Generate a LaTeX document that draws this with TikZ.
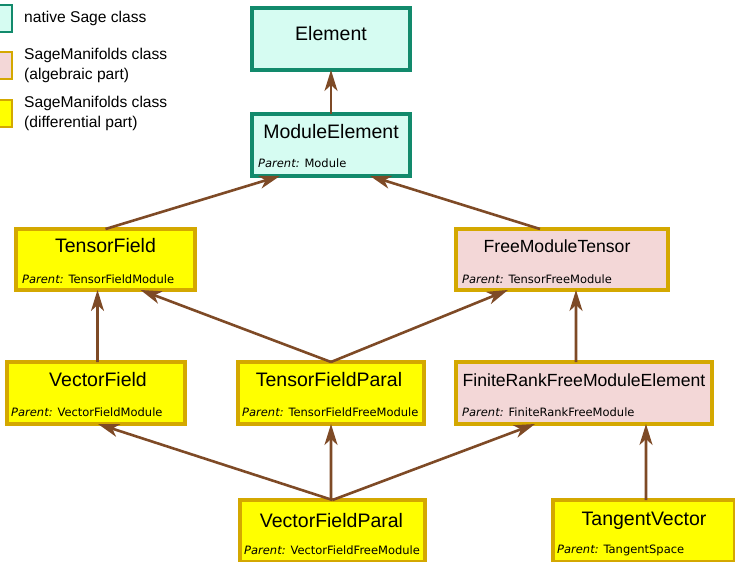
\documentclass[tikz,border=0pt]{standalone}
\usepackage{fontspec}
\setmainfont{Liberation Sans}
\newfontfamily\parentfont{DejaVu Sans}
\usetikzlibrary{arrows.meta}

\definecolor{sagefill}{HTML}{D6FCF2}
\definecolor{sageline}{HTML}{128A6C}
\definecolor{algfill}{HTML}{F3D7D7}
\definecolor{smline}{HTML}{D4A800}
\definecolor{difffill}{HTML}{FFFF00}
\definecolor{inhcol}{HTML}{7E4A26}

\newcommand{\parentof}[1]{{\parentfont\fontsize{11.5bp}{13bp}\selectfont\textit{Parent:} #1}}

\begin{document}
\begin{tikzpicture}[>={Stealth[length=21bp, width=13bp, inset=6bp]}, x=1bp, y=-1bp,
  box/.style={rectangle, line width=3.5bp, inner sep=0, outer sep=0},
  sagebox/.style={box, draw=sageline, fill=sagefill},
  algbox/.style={box, draw=smline, fill=algfill},
  diffbox/.style={box, draw=smline, fill=difffill},
  classname/.style={font=\fontsize{19.5bp}{21bp}\selectfont, inner sep=0},
  parentname/.style={anchor=west, inner sep=0},
  legendtext/.style={anchor=west, align=left, inner sep=0, font=\fontsize{15.6bp}{19.5bp}\selectfont},
  inh/.style={->, draw=inhcol, line width=2.6bp}]

\useasboundingbox (0,0) rectangle (735,562);

% legend
\node[sagebox, line width=2bp, minimum width=27bp, minimum height=27bp] (legsage) at (-1.5,18.5) {};
\node[algbox, line width=2bp, minimum width=27bp, minimum height=27bp] (legalg) at (-1.5,66) {};
\node[diffbox, line width=2bp, minimum width=27bp, minimum height=27bp] (legdiff) at (-1.5,113.5) {};
\node[legendtext] (legsagetext) at (24,18) {native Sage class};
\node[legendtext] (legalgtext) at (24,65.5) {SageManifolds class\\(algebraic part)};
\node[legendtext] (legdifftext) at (24,113.5) {SageManifolds class\\(differential part)};

% classes
\node[sagebox, minimum width=158bp, minimum height=62bp] (elt) at (331,39) {};
\node[classname] at ([yshift=5bp]elt.center) {Element};

\node[sagebox, minimum width=158bp, minimum height=62bp] (modelt) at (331,145) {};
\node[classname] at ([yshift=-18bp]modelt.north) {ModuleElement};
\node[parentname] at ([xshift=6bp,yshift=-49bp]modelt.north west) {\parentof{Module}};

\node[diffbox, minimum width=179bp, minimum height=61bp] (tf) at (105.5,259.5) {};
\node[classname] at ([yshift=-17bp]tf.north) {TensorField};
\node[parentname] at ([xshift=6bp,yshift=-50bp]tf.north west) {\parentof{TensorFieldModule}};

\node[algbox, minimum width=212bp, minimum height=61bp] (fmt) at (562,259.5) {};
\node[classname, font=\fontsize{17.6bp}{20bp}\selectfont] at ([xshift=-5bp,yshift=-17bp]fmt.north) {FreeModuleTensor};
\node[parentname] at ([xshift=6bp,yshift=-50bp]fmt.north west) {\parentof{TensorFreeModule}};

\node[diffbox, minimum width=178bp, minimum height=62bp] (vf) at (96,393) {};
\node[classname] at ([xshift=2bp,yshift=-18bp]vf.north) {VectorField};
\node[parentname] at ([xshift=4bp,yshift=-50bp]vf.north west) {\parentof{VectorFieldModule}};

\node[diffbox, minimum width=186bp, minimum height=62bp] (tfp) at (331,393) {};
\node[classname] at ([xshift=-2bp,yshift=-18bp]tfp.north) {TensorFieldParal};
\node[parentname] at ([xshift=4bp,yshift=-50bp]tfp.north west) {\parentof{TensorFieldFreeModule}};

\node[algbox, minimum width=256bp, minimum height=62bp] (frfme) at (584,393) {};
\node[classname, font=\fontsize{17.6bp}{20bp}\selectfont] at ([yshift=-18bp]frfme.north) {FiniteRankFreeModuleElement};
\node[parentname] at ([xshift=6bp,yshift=-50bp]frfme.north west) {\parentof{FiniteRankFreeModule}};

\node[diffbox, minimum width=185bp, minimum height=62bp] (vfp) at (332.5,531) {};
\node[classname] at ([xshift=-1bp,yshift=-21bp]vfp.north) {VectorFieldParal};
\node[parentname] at ([xshift=4bp,yshift=-50bp]vfp.north west) {\parentof{VectorFieldFreeModule}};

\node[diffbox, minimum width=182bp, minimum height=62bp] (tv) at (644,531) {};
\node[classname] at ([yshift=-21bp]tv.north) {TangentVector};
\node[parentname] at ([xshift=4bp,yshift=-50bp]tv.north west) {\parentof{TangentSpace}};

% inheritance
\draw[inh] (modelt.north) -- (elt.south); %Element
\draw[inh] (tf.north) -- ([xshift=-51bp]modelt.south); %ModuleElement
\draw[inh] ([xshift=-22bp]fmt.north) -- ([xshift=39bp]modelt.south);
\draw[inh] ([xshift=1.5bp]vf.north) -- ([xshift=-8bp]tf.south); %TensorField
\draw[inh] (tfp.north) -- ([xshift=35bp]tf.south);
\draw[inh] (tfp.north) -- ([xshift=-54bp]fmt.south); %FreeModuleTensor
\draw[inh] ([xshift=-8bp]frfme.north) -- ([xshift=14bp]fmt.south);
\draw[inh] (vfp.north) -- ([xshift=2bp]vf.south); %VectorField etc.
\draw[inh] ([xshift=-1.5bp]vfp.north) -- (tfp.south);
\draw[inh] (vfp.north) -- ([xshift=-49bp]frfme.south);
\draw[inh] ([xshift=2bp]tv.north) -- ([xshift=62bp]frfme.south); %FiniteRankFreeModuleElement

\end{tikzpicture}
\end{document}
